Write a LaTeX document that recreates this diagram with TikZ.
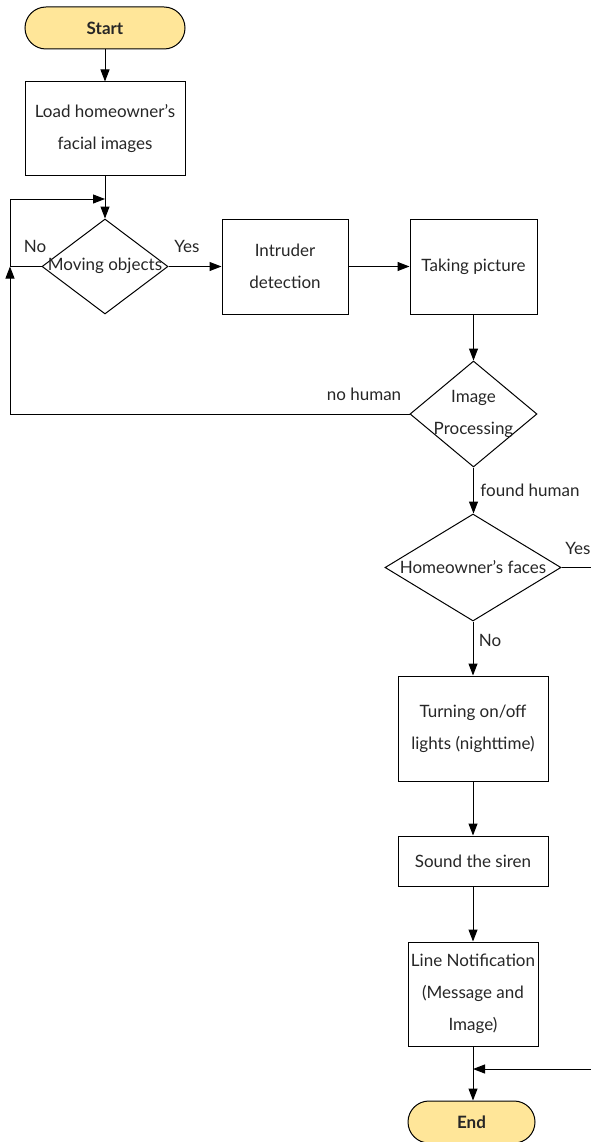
\documentclass[tikz,border=0pt]{standalone}
\usepackage{fontspec}
\setmainfont{Lato}
\usetikzlibrary{shapes.geometric,arrows.meta}
\definecolor{termfill}{RGB}{255,230,153}
\begin{document}
\begin{tikzpicture}[x=1pt,y=-1pt,
  every node/.style={font=\fontsize{17}{32}\selectfont, inner sep=0pt, text=black!85},
  term/.style={draw, line width=1pt, rounded corners=21pt, fill=termfill, minimum width=#1, minimum height=42pt, font=\fontsize{17}{32}\selectfont\bfseries},
  term/.default=160pt,
  box/.style={draw, line width=1pt, align=center},
  lbl/.style={font=\fontsize{17}{18}\selectfont},
  conn/.style={line width=1pt, -{Triangle[length=12pt,width=9pt]}},
  line/.style={line width=1pt}]
\useasboundingbox (0,0) rectangle (591,1142);
% terminals
\node[term=160pt] (start) at (105,28) {Start};
\node[term=127pt] (end) at (471.5,1122) {End};
% boxes
\node[box, minimum width=160pt, minimum height=94pt] (load) at (105,129) {Load homeowner’s\\facial images};
\node[box, minimum width=126pt, minimum height=95pt] (intr) at (285,266.5) {Intruder\\detection};
\node[box, minimum width=127pt, minimum height=95pt] (take) at (473.5,266.5) {Taking picture};
\node[box, minimum width=150pt, minimum height=105pt] (turn) at (473,728.5) {Turning on/off\\lights (nighttime)};
\node[box, minimum width=150pt, minimum height=50pt] (siren) at (473,861) {Sound the siren};
\node[box, minimum width=130pt, minimum height=104pt] (line) at (473,994) {Line Notification\\(Message and\\Image)};
% diamonds
\node[draw, line width=1pt, diamond, minimum width=126pt, minimum height=95pt] (move) at (105,266.5) {};
\node at (105,266) {Moving objects};
\node[draw, line width=1pt, diamond, minimum width=127pt, minimum height=106pt] (img) at (473.5,414) {};
\node[align=center] at (473.5,414) {Image\\Processing};
\node[draw, line width=1pt, diamond, minimum width=176pt, minimum height=107pt] (home) at (473,567.5) {};
\node at (473,567) {Homeowner’s faces};
% coordinates
\coordinate (lt) at (10,199);
\coordinate (lm) at (10,266.5);
\coordinate (lb) at (10,414);
\coordinate (rt) at (593,567.5);
\coordinate (rb) at (593,1069);
\coordinate (jn) at (473,1069);
% connectors
\draw[conn] (start) -- (load);
\draw[conn] (load) -- (move.north);
\draw[conn] (move.east) -- (intr.west);
\draw[conn] (intr.east) -- (take.west);
\draw[conn] (take.south) -- (take.south |- img.north);
\draw[conn] (img.south) -- (img.south |- home.north);
\draw[conn] (home.south) -- (turn.north);
\draw[conn] (turn) -- (siren);
\draw[conn] (siren) -- (line);
\draw[conn] (line.south) -- (line.south |- end.north);
\draw[line] (move.west) -- (lm) -- (lt);
\draw[conn] (lt) -- (105,199);
\draw[line] (img.west) -- (lb);
\draw[conn] (lb) -- (lm);
\draw[line] (home.east) -- (rt) -- (rb);
\draw[conn] (rb) -- (jn);
% labels
\node[lbl] at (35,246) {No};
\node[lbl] at (187,246) {Yes};
\node[lbl] at (364,394) {no human};
\node[lbl] at (530,490) {found human};
\node[lbl] at (578,548) {Yes};
\node[lbl] at (490,640) {No};
\end{tikzpicture}
\end{document}
